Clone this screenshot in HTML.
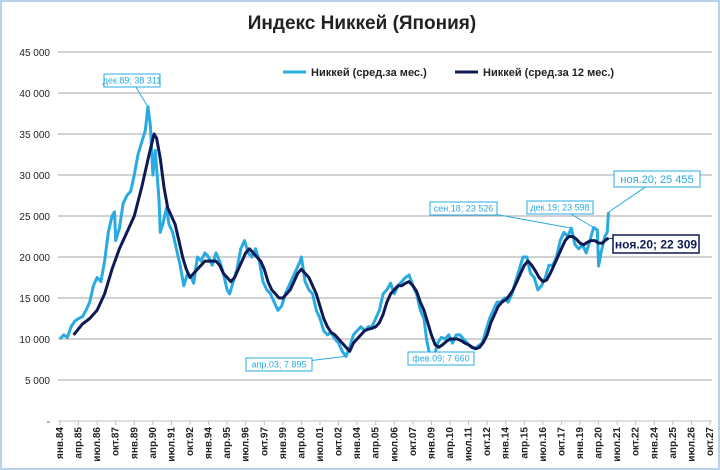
<!DOCTYPE html>
<html><head><meta charset="utf-8"><style>
body{margin:0;background:#fff}
svg{display:block;font-family:"Liberation Sans",sans-serif}
</style></head><body>
<svg id="c" width="720" height="470">
<rect x="1" y="1" width="718" height="468" fill="#fff" stroke="#9dc3e6" stroke-width="1.5"/>
<text x="362" y="29" text-anchor="middle" font-size="19" font-weight="bold" fill="#222">Индекс Никкей (Япония)</text>
<g id="grid"></g><g id="series"></g><g id="ann"></g>
<g>
<line x1="283" y1="72" x2="306" y2="72" stroke="#29abe2" stroke-width="3"/>
<text x="311" y="76" font-size="11" font-weight="bold" fill="#222">Никкей (сред.за мес.)</text>
<line x1="455" y1="72" x2="478" y2="72" stroke="#0f1a55" stroke-width="3"/>
<text x="483" y="76" font-size="11" font-weight="bold" fill="#222">Никкей (сред.за 12 мес.)</text>
</g>
</svg>
<script>
const yTicks=[45000,40000,35000,30000,25000,20000,15000,10000,5000,0];
const xTickLabels=["янв.84","апр.85","июл.86","окт.87","янв.89","апр.90","июл.91","окт.92","янв.94","апр.95","июл.96","окт.97","янв.99","апр.00","июл.01","окт.02","янв.04","апр.05","июл.06","окт.07","янв.09","апр.10","июл.11","окт.12","янв.14","апр.15","июл.16","окт.17","янв.19","апр.20","июл.21","окт.22","янв.24","апр.25","июл.26","окт.27"];
const monthlyMonths=[0,3,6,9,12,15,18,21,24,27,30,33,36,39,42,44,45,48,51,54,57,60,63,66,69,71,73,75,77,80,81,83,86,88,91,94,97,100,103,106,108,111,114,117,120,123,126,129,132,135,137,140,143,146,149,152,155,158,161,164,167,170,173,176,179,182,185,188,191,194,195,198,201,204,207,210,213,216,219,222,225,228,231,234,237,240,243,246,249,252,255,258,261,264,267,270,273,276,279,282,285,288,291,294,296,298,300,302,305,308,311,314,317,320,323,326,329,332,335,338,341,344,347,350,353,356,359,362,365,368,371,374,377,380,383,386,389,392,395,398,401,404,407,410,413,416,419,422,425,428,431,434,435,437,440,442,443];
const monthlyValues=[10000,10500,10200,11500,12200,12500,12700,13500,14500,16500,17500,17000,19500,23000,25000,25500,22000,23500,26500,27500,28000,30000,32500,34000,35500,38311,36000,30000,33000,27000,23000,24000,26000,24000,23000,21000,19000,16500,18000,17500,16800,20000,19500,20500,20000,19000,20500,19500,18000,16000,15500,17000,18500,21000,22000,20500,20000,21000,19500,17000,16000,15500,14500,13500,14000,15500,16500,17500,18500,19500,20000,17000,16000,15500,13500,12500,11000,10500,10800,10000,9500,8500,7895,9000,10500,11000,11500,11000,11500,11500,12500,13500,15500,16000,16800,15500,16500,17000,17500,17800,16500,15500,13500,12500,10000,8500,7800,7660,9500,10200,10000,10500,9500,10500,10500,10000,9500,9000,8800,9200,9500,11000,12500,13500,14500,14500,15000,14500,15500,17000,18500,20000,20000,18000,17500,16000,16500,17500,19000,19000,20000,22000,23000,22500,23526,21500,21000,21500,20500,22000,23598,23300,18900,20500,22500,23000,25455];
const avgMonths=[11,18,24,30,36,42,48,54,60,66,72,76,78,81,84,87,90,93,96,99,102,105,108,111,114,117,120,123,126,129,132,135,138,141,144,147,150,153,156,159,162,165,168,171,174,177,180,183,186,189,192,195,198,201,204,207,210,213,216,219,222,225,228,231,234,237,240,243,246,249,252,255,258,261,264,267,270,273,276,279,282,285,288,291,294,297,300,303,306,309,312,315,318,321,324,327,330,333,336,339,342,345,348,351,354,357,360,363,366,369,372,375,378,381,384,387,390,393,396,399,402,405,408,411,414,417,420,423,426,429,432,435,438,441,443];
const avgValues=[10500,11800,12500,13500,15500,18500,21000,23000,25000,28500,32500,35000,34500,32000,28500,26000,25000,24000,22000,20000,18500,17500,18000,18500,19000,19500,19500,19500,19500,19000,18000,17500,17000,17500,18500,19500,20500,21000,20500,20000,19500,18500,17000,16000,15500,15000,15000,15500,16000,17000,18000,18500,18000,17500,16500,15500,14000,12500,11500,10800,10500,10000,9500,9000,8500,9500,10000,10500,11000,11200,11300,11500,12000,13000,14500,15500,16000,16500,16500,16800,17000,16500,15800,14500,13500,12000,10500,9300,9000,9300,9700,10000,10000,10000,9800,9500,9300,9000,8800,9000,9600,10500,12000,13000,14000,14500,14800,15300,16000,17000,18000,19000,19500,19000,18300,17500,17000,17200,18000,19000,20000,21000,22000,22500,22500,22200,21700,21500,21800,22000,22000,21700,21700,22100,22309];
const annTexts=["дек.89;  38 311","апр.03;  7 895","фев.09;  7 660","сен.18;  23 526","дек.19;  23 598","ноя.20;  25 455","ноя.20;  22 309"];

const NS="http://www.w3.org/2000/svg";
const X0=58,X1=712,Y0=421,YT=52,MMAX=525;
const xs=m=>X0+m*(X1-X0-4)/MMAX+2;
const ys=v=>Y0-(v/45000)*(Y0-YT);
function mk(tag,at,parent){const e=document.createElementNS(NS,tag);for(const k in at)e.setAttribute(k,at[k]);parent.appendChild(e);return e;}
const grid=document.getElementById('grid');
yTicks.forEach(v=>{
  if(v>0){const l=mk('line',{x1:X0,x2:X1,y1:ys(v),y2:ys(v),stroke:'#a6a6a6','stroke-width':1},grid);
  
  }
  const t=mk('text',{x:50,y:ys(v)+4,'text-anchor':'end','font-size':10,fill:'#222'},grid);
  t.textContent=v===0?'-':v.toLocaleString('ru-RU').replace(/\s/g,' ');
  
  
});
const ax=mk('line',{x1:X0,x2:X1,y1:Y0,y2:Y0,stroke:'#bfbfbf','stroke-width':1},grid);


xTickLabels.forEach((s,i)=>{
  const x=xs(i*15);
  const tk=mk('line',{x1:x,x2:x,y1:Y0,y2:Y0+4,stroke:'#bfbfbf'},grid);
  
  
  const t=mk('text',{x:x+3,y:Y0+6,'text-anchor':'end','font-size':10,'font-weight':'bold',fill:'#222',transform:`rotate(-90 ${x+3} ${Y0+6})`},grid);
  t.textContent=s;
  
  
});
const ser=document.getElementById('series');
function line(ms,vs,col,name){
  const d=ms.map((m,i)=>(i?'L':'M')+xs(m).toFixed(1)+','+ys(vs[i]).toFixed(1)).join('');
  const p=mk('path',{d:d,fill:'none',stroke:col,'stroke-width':3,'stroke-linejoin':'round'},ser);
  
  
}
line(monthlyMonths,monthlyValues,'#29abe2','monthly-series-line');
line(avgMonths,avgValues,'#0f1a55','avg-12m-series-line');
const ann=document.getElementById('ann');
function label(txt,bx,by,w,h,px,py,col,fs,bold){
  const l=mk('line',{x1:bx+w/2,y1:by+h/2,x2:px,y2:py,stroke:col,'stroke-width':1},ann);
  
  
  const r=mk('rect',{x:bx,y:by,width:w,height:h,fill:'#fff',stroke:col,'stroke-width':bold?1.5:1},ann);
  
  
  const t=mk('text',{x:bx+w/2,y:by+h/2+fs*0.36,'text-anchor':'middle','font-size':fs,'font-weight':bold?'bold':'normal',fill:bold?'#0f1a55':'#29abe2'},ann);
  t.textContent=txt;
  
  
}
function pt(ms,vs,m){const i=ms.indexOf(m);return [xs(m),ys(vs[i])];}
let p;
p=pt(monthlyMonths,monthlyValues,71);label(annTexts[0],104,74,56,13,p[0],p[1],'#29abe2',9);
p=pt(monthlyMonths,monthlyValues,231);label(annTexts[1],246,358,66,13,p[0],p[1],'#29abe2',9);
p=pt(monthlyMonths,monthlyValues,302);label(annTexts[2],408,352,66,13,p[0],p[1],'#29abe2',9);
p=pt(monthlyMonths,monthlyValues,413);label(annTexts[3],430,202,67,13,p[0],p[1],'#29abe2',9);
p=pt(monthlyMonths,monthlyValues,431);label(annTexts[4],527,201,66,13,p[0],p[1],'#29abe2',9);
p=pt(monthlyMonths,monthlyValues,443);label(annTexts[5],614,171,86,16,p[0],p[1],'#29abe2',11);
p=pt(avgMonths,avgValues,443);label(annTexts[6],613,235,86,18,p[0],p[1],'#0f1a55',12,true);
</script>
</body></html>
